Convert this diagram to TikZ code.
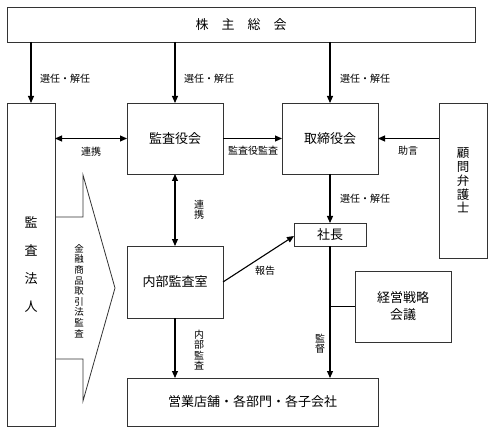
\documentclass[tikz,border=0pt]{standalone}
\usepackage{fontspec}
\setmainfont{Noto Sans CJK JP}
\usetikzlibrary{arrows.meta}
\begin{document}
\begin{tikzpicture}[x=1pt,y=-1pt,
  box/.style={draw=black!80, line width=0.8pt, fill=white, inner sep=0pt, outer sep=0pt,
    align=center, font=\fontsize{13}{17}\selectfont},
  arr/.style={-{Triangle[length=7pt,width=6pt]}, line width=1.1pt},
  darr/.style={{Triangle[length=7pt,width=6pt]}-{Triangle[length=7pt,width=6pt]}, line width=1.1pt},
  lbl/.style={font=\fontsize{10}{10.5}\selectfont, inner sep=0pt, align=center},
  vlbl/.style={font=\fontsize{10}{10.3}\selectfont, inner sep=0pt, align=center},
  callout/.style={draw=black!80, line width=0.8pt}
]
\useasboundingbox (0,0) rectangle (493,433);

% boxes
\node[box, minimum width=468pt, minimum height=35pt] (gm) at (241,24.5) {株　主　総　会};
\node[box, minimum width=48pt, minimum height=323pt, font=\fontsize{13}{28}\selectfont] (firm) at (31,264.5) {監\\査\\法\\人};
\node[box, minimum width=96pt, minimum height=71pt] (kansa) at (175,138.5) {監査役会};
\node[box, minimum width=96pt, minimum height=71pt] (board) at (330,138.5) {取締役会};
\node[box, minimum width=48pt, minimum height=155pt, font=\fontsize{12.5}{13.8}\selectfont] (lawyer) at (463,180.5) {顧\\問\\弁\\護\\士};
\node[box, minimum width=72pt, minimum height=23pt] (pres) at (330,234.5) {社長};
\node[box, minimum width=96pt, minimum height=72pt] (naibu) at (175,282) {内部監査室};
\node[box, minimum width=96pt, minimum height=71pt] (keiei) at (403,306.5) {経営戦略\\会議};
\node[box, minimum width=251pt, minimum height=48pt] (eigyo) at (252.5,402) {営業店舗・各部門・各子会社};

% arrows from general meeting
\draw[arr] (gm.south -| firm.north) -- (firm.north);
\draw[arr] (gm.south -| kansa.north) -- (kansa.north);
\draw[arr] (gm.south -| board.north) -- (board.north);
\node[lbl, anchor=west] (l1) at (40,79) {選任・解任};
\node[lbl, anchor=west] (l2) at (184,79) {選任・解任};
\node[lbl, anchor=west] (l3) at (340,79) {選任・解任};

% horizontal relations
\draw[darr] (kansa.west -| firm.east) -- (kansa.west);
\node[lbl] (l4) at (91,152) {連携};
\draw[arr] (kansa.east) -- (board.west);
\node[lbl] (l5) at (253,151) {監査役監査};
\draw[arr] (board.east -| lawyer.west) -- (board.east);
\node[lbl] (l6) at (408,151) {助言};

% board -> president
\draw[arr] (board.south) -- (pres.north);
\node[lbl, anchor=west] (l7) at (340,199) {選任・解任};

% kansa <-> naibu
\draw[darr] (kansa.south) -- (naibu.north);
\node[vlbl] (l8) at (199,210) {連\\携};

% naibu -> pres
\draw[arr] (naibu.east) -- ([yshift=-1.5pt]pres.west);
\node[lbl] (l9) at (265,271) {報告};

% naibu -> eigyo
\draw[arr] (naibu.south) -- (naibu.south |- eigyo.north);
\node[vlbl] (l10) at (199,350) {内\\部\\監\\査};

% pres -> eigyo
\draw[arr] (pres.south) -- (pres.south |- eigyo.north);
\node[vlbl] (l11) at (320,344) {監\\督};
\draw[line width=0.8pt] (pres.south |- keiei.west) -- (keiei.west);

% callout arrow shape
\coordinate (c1) at (firm.east |- 0,217);
\coordinate (c2) at (83,217);
\coordinate (c3) at (83,175);
\coordinate (tip) at (115,288);
\coordinate (c4) at (83,401);
\coordinate (c5) at (83,359);
\coordinate (c6) at (firm.east |- 0,359);
\draw[callout] (c1) -- (c2) -- (c3) -- (tip) -- (c4) -- (c5) -- (c6);
\node[vlbl, font=\fontsize{9.5}{10.6}\selectfont] (l12) at (79,291) {金\\融\\商\\品\\取\\引\\法\\監\\査};
\end{tikzpicture}
\end{document}
